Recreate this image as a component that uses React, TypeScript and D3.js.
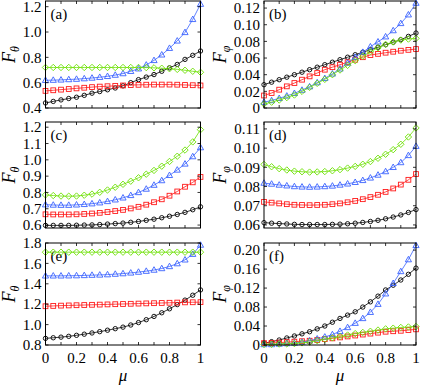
import React from "react";
import * as d3 from "d3";

const MU = d3.range(21).map((i) => i / 20);

// Panel (a) F_theta
const aBlack = [0.44,0.452,0.464,0.475,0.485,0.5,0.517,0.53,0.544,0.558,0.575,0.6,0.624,0.644,0.664,0.69,0.717,0.744,0.784,0.816,0.85];
const aRed = [0.535,0.54,0.545,0.55,0.555,0.56,0.565,0.569,0.572,0.575,0.578,0.581,0.583,0.584,0.585,0.585,0.585,0.584,0.582,0.58,0.578];
const aBlue = [0.619,0.62,0.622,0.625,0.628,0.632,0.637,0.643,0.65,0.66,0.672,0.69,0.71,0.74,0.776,0.82,0.872,0.93,0.997,1.1,1.22];
const aGreen = [0.72,0.72,0.72,0.72,0.72,0.72,0.72,0.72,0.72,0.72,0.72,0.72,0.72,0.719,0.717,0.714,0.71,0.705,0.698,0.69,0.682];
// Panel (b) F_phi
const bBlack = [0.028,0.031,0.034,0.037,0.04,0.043,0.046,0.049,0.052,0.055,0.058,0.061,0.064,0.067,0.07,0.073,0.076,0.079,0.082,0.086,0.09];
const bRed = [0.015,0.018,0.022,0.026,0.03,0.034,0.038,0.042,0.046,0.049,0.052,0.055,0.058,0.061,0.0636,0.065,0.0664,0.0676,0.0688,0.0698,0.0708];
const bBlue = [0.007,0.009,0.0116,0.0145,0.0176,0.0215,0.0256,0.0305,0.0356,0.041,0.047,0.054,0.061,0.067,0.0736,0.0795,0.0856,0.093,0.1016,0.112,0.126];
const bGreen = [0.0048,0.007,0.0096,0.0125,0.0156,0.02,0.0248,0.0296,0.0344,0.04,0.0456,0.0512,0.0568,0.0622,0.0676,0.0722,0.0764,0.0793,0.0816,0.0828,0.0836];
// Panel (c) F_theta
const cBlack = [0.598,0.598,0.598,0.598,0.599,0.6,0.601,0.603,0.606,0.609,0.612,0.617,0.622,0.629,0.636,0.645,0.654,0.665,0.678,0.694,0.712];
const cRed = [0.666,0.665,0.665,0.665,0.666,0.668,0.671,0.675,0.68,0.686,0.693,0.702,0.712,0.725,0.74,0.758,0.78,0.806,0.835,0.862,0.895];
const cBlue = [0.725,0.723,0.722,0.722,0.724,0.727,0.731,0.737,0.745,0.755,0.767,0.782,0.8,0.821,0.845,0.873,0.905,0.938,0.975,1.02,1.075];
const cGreen = [0.785,0.781,0.778,0.777,0.778,0.783,0.79,0.801,0.815,0.832,0.85,0.869,0.89,0.912,0.935,0.961,0.99,1.022,1.06,1.11,1.185];
// Panel (d) F_phi
const dBlack = [0.0612,0.0609,0.0607,0.0605,0.0603,0.0602,0.0602,0.0602,0.0602,0.0603,0.0604,0.0606,0.0609,0.0613,0.0618,0.0624,0.0632,0.0641,0.0652,0.0665,0.068];
const dRed = [0.072,0.0716,0.0712,0.0708,0.0705,0.0704,0.0703,0.0704,0.0705,0.0708,0.0712,0.0718,0.0725,0.0734,0.0745,0.0757,0.0772,0.079,0.081,0.0835,0.0865];
const dBlue = [0.0818,0.0813,0.0808,0.0804,0.08,0.0798,0.0797,0.0798,0.08,0.0803,0.0808,0.0814,0.0822,0.0832,0.0845,0.086,0.0878,0.09,0.0925,0.0962,0.101];
const dGreen = [0.0915,0.0903,0.0893,0.0886,0.088,0.0877,0.0875,0.0876,0.0878,0.0882,0.0888,0.0896,0.0905,0.0916,0.093,0.0947,0.0968,0.0992,0.102,0.1058,0.1105];
// Panel (e) F_theta
const eBlack = [0.865,0.871,0.877,0.885,0.895,0.906,0.918,0.931,0.945,0.96,0.975,0.996,1.02,1.048,1.08,1.116,1.155,1.196,1.24,1.288,1.34];
const eRed = [1.18,1.183,1.186,1.188,1.19,1.192,1.194,1.196,1.198,1.2,1.202,1.204,1.206,1.208,1.21,1.212,1.214,1.216,1.218,1.219,1.22];
const eBlue = [1.478,1.478,1.478,1.479,1.48,1.482,1.485,1.487,1.49,1.495,1.5,1.507,1.515,1.524,1.535,1.55,1.57,1.598,1.635,1.69,1.78];
const eGreen = [1.71,1.71,1.71,1.71,1.71,1.71,1.71,1.71,1.71,1.71,1.71,1.71,1.71,1.71,1.71,1.71,1.71,1.71,1.71,1.71,1.71];
// Panel (f) F_phi
const fBlack = [0.0035,0.007,0.0105,0.0148,0.019,0.0235,0.028,0.034,0.04,0.048,0.056,0.063,0.07,0.08,0.091,0.103,0.116,0.126,0.137,0.149,0.162];
const fRed = [0.004,0.0045,0.005,0.006,0.007,0.008,0.009,0.0105,0.0125,0.014,0.016,0.018,0.02,0.022,0.024,0.026,0.028,0.029,0.03,0.0315,0.033];
const fBlue = [0.001,0.001,0.002,0.003,0.004,0.006,0.009,0.013,0.017,0.022,0.029,0.037,0.046,0.056,0.069,0.086,0.108,0.13,0.155,0.18,0.21];
const fGreen = [0.001,0.0015,0.002,0.0025,0.003,0.0045,0.006,0.009,0.012,0.015,0.018,0.021,0.024,0.0265,0.029,0.0315,0.034,0.0355,0.037,0.038,0.039];

const aTicks = ["0.4", "0.6", "0.8", "1.0", "1.2"];
const bTicks = ["0", "0.02", "0.04", "0.06", "0.08", "0.10", "0.12"];
const cTicks = ["0.6", "0.7", "0.8", "0.9", "1.0", "1.1", "1.2"];
const dTicks = ["0.06", "0.07", "0.08", "0.09", "0.10", "0.11"];
const eTicks = ["0.8", "1.0", "1.2", "1.4", "1.6", "1.8"];
const fTicks = ["0", "0.04", "0.08", "0.12", "0.16", "0.20"];
const xTickLabels = ["0", "0.2", "0.4", "0.6", "0.8", "1"];

const COLORS = { black: "#000000", red: "#ff1a1a", blue: "#3a62ff", green: "#6be000" };
const FONT = "Liberation Serif, DejaVu Serif, serif";

type Panel = {
  letter: string;
  col: number;
  row: number;
  domain: [number, number];
  ticks: string[];
  ylabel: "theta" | "phi";
  series: { data: number[]; color: string; marker: string }[];
};

const colX = [
  [45.5, 200.5],
  [264, 416],
];
const rowY = [
  [1, 108],
  [122, 228],
  [243, 345],
];

const panels: Panel[] = [
  { letter: "(a)", col: 0, row: 0, domain: [0.4, 1.245], ticks: aTicks, ylabel: "theta",
    series: [
      { data: aBlack, color: COLORS.black, marker: "circle" },
      { data: aRed, color: COLORS.red, marker: "square" },
      { data: aBlue, color: COLORS.blue, marker: "triangle" },
      { data: aGreen, color: COLORS.green, marker: "diamond" },
    ] },
  { letter: "(b)", col: 1, row: 0, domain: [0, 0.1285], ticks: bTicks, ylabel: "phi",
    series: [
      { data: bBlack, color: COLORS.black, marker: "circle" },
      { data: bRed, color: COLORS.red, marker: "square" },
      { data: bBlue, color: COLORS.blue, marker: "triangle" },
      { data: bGreen, color: COLORS.green, marker: "diamond" },
    ] },
  { letter: "(c)", col: 0, row: 1, domain: [0.582, 1.232], ticks: cTicks, ylabel: "theta",
    series: [
      { data: cBlack, color: COLORS.black, marker: "circle" },
      { data: cRed, color: COLORS.red, marker: "square" },
      { data: cBlue, color: COLORS.blue, marker: "triangle" },
      { data: cGreen, color: COLORS.green, marker: "diamond" },
    ] },
  { letter: "(d)", col: 1, row: 1, domain: [0.0584, 0.1136], ticks: dTicks, ylabel: "phi",
    series: [
      { data: dBlack, color: COLORS.black, marker: "circle" },
      { data: dRed, color: COLORS.red, marker: "square" },
      { data: dBlue, color: COLORS.blue, marker: "triangle" },
      { data: dGreen, color: COLORS.green, marker: "diamond" },
    ] },
  { letter: "(e)", col: 0, row: 2, domain: [0.8, 1.8], ticks: eTicks, ylabel: "theta",
    series: [
      { data: eBlack, color: COLORS.black, marker: "circle" },
      { data: eRed, color: COLORS.red, marker: "square" },
      { data: eBlue, color: COLORS.blue, marker: "triangle" },
      { data: eGreen, color: COLORS.green, marker: "diamond" },
    ] },
  { letter: "(f)", col: 1, row: 2, domain: [0, 0.215], ticks: fTicks, ylabel: "phi",
    series: [
      { data: fBlack, color: COLORS.black, marker: "circle" },
      { data: fRed, color: COLORS.red, marker: "square" },
      { data: fBlue, color: COLORS.blue, marker: "triangle" },
      { data: fGreen, color: COLORS.green, marker: "diamond" },
    ] },
];

function Marker({ kind, x, y, color }: { kind: string; x: number; y: number; color: string }) {
  const common = { fill: "none", stroke: color, strokeWidth: 0.9 };
  if (kind === "circle") return <circle cx={x} cy={y} r={2.2} {...common} />;
  if (kind === "square") return <rect x={x - 2.4} y={y - 2.4} width={4.8} height={4.8} {...common} />;
  if (kind === "triangle")
    return <path d={`M${x},${y - 3.3}L${x + 3.1},${y + 2.2}L${x - 3.1},${y + 2.2}Z`} {...common} />;
  return <path d={`M${x},${y - 3.2}L${x + 3.2},${y}L${x},${y + 3.2}L${x - 3.2},${y}Z`} {...common} />;
}

function PanelView({ p }: { p: Panel }) {
  const [x0, x1] = colX[p.col];
  const [y0, y1] = rowY[p.row];
  const x = d3.scaleLinear().domain([0, 1]).range([x0, x1]);
  const y = d3.scaleLinear().domain(p.domain).range([y1, y0]);
  const line = d3.line<number>().x((_, i) => x(MU[i])).y((d) => y(d));
  const xMinor = d3.range(11).map((i) => i / 10);
  const tl = 3;
  return (
    <g>
      <text x={x0 + 5} y={y0 + 18} fontFamily={FONT} fontSize={15}>{p.letter}</text>
      {p.series.map((s, si) => (
        <g key={si}>
          <path d={line(s.data) || ""} fill="none" stroke={s.color} strokeWidth={0.8} />
          {s.data.map((v, i) => (
            <Marker key={i} kind={s.marker} x={x(MU[i])} y={y(v)} color={s.color} />
          ))}
        </g>
      ))}
      <rect x={x0} y={y0} width={x1 - x0} height={y1 - y0} fill="none" stroke="#000" strokeWidth={1} />
      {xMinor.map((t, i) => (
        <g key={i}>
          <line x1={x(t)} x2={x(t)} y1={y1} y2={y1 - tl} stroke="#000" strokeWidth={0.8} />
          <line x1={x(t)} x2={x(t)} y1={y0} y2={y0 + tl} stroke="#000" strokeWidth={0.8} />
        </g>
      ))}
      {p.ticks.map((t, i) => {
        const yy = y(+t);
        return (
          <g key={i}>
            <line x1={x0} x2={x0 + tl} y1={yy} y2={yy} stroke="#000" strokeWidth={0.8} />
            <line x1={x1} x2={x1 - tl} y1={yy} y2={yy} stroke="#000" strokeWidth={0.8} />
            <text x={x0 - 4} y={yy} dy="0.35em" textAnchor="end" fontFamily={FONT} fontSize={15}>{t}</text>
          </g>
        );
      })}
      {p.row === 2 &&
        xTickLabels.map((t, i) => (
          <text key={i} x={x(+t)} y={y1 + 18} textAnchor="middle" fontFamily={FONT} fontSize={15}>{t}</text>
        ))}
      {p.row === 2 && (
        <text x={(x0 + x1) / 2} y={y1 + 36} textAnchor="middle" fontFamily={FONT} fontSize={17} fontStyle="italic">μ</text>
      )}
      <text
        transform={`translate(${p.col === 0 ? 15 : 226},${(y0 + y1) / 2}) rotate(-90)`}
        textAnchor="middle"
        fontFamily={FONT}
        fontSize={18}
        fontStyle="italic"
      >
        F<tspan fontSize={12} dy={4}>{p.ylabel === "theta" ? "θ" : "φ"}</tspan>
      </text>
    </g>
  );
}

export default function App() {
  return (
    <svg width={422} height={386} style={{ position: "absolute", left: 0, top: 0, background: "#fff" }}>
      <rect width={422} height={386} fill="#fff" />
      {panels.map((p, i) => (
        <PanelView key={i} p={p} />
      ))}
    </svg>
  );
}
